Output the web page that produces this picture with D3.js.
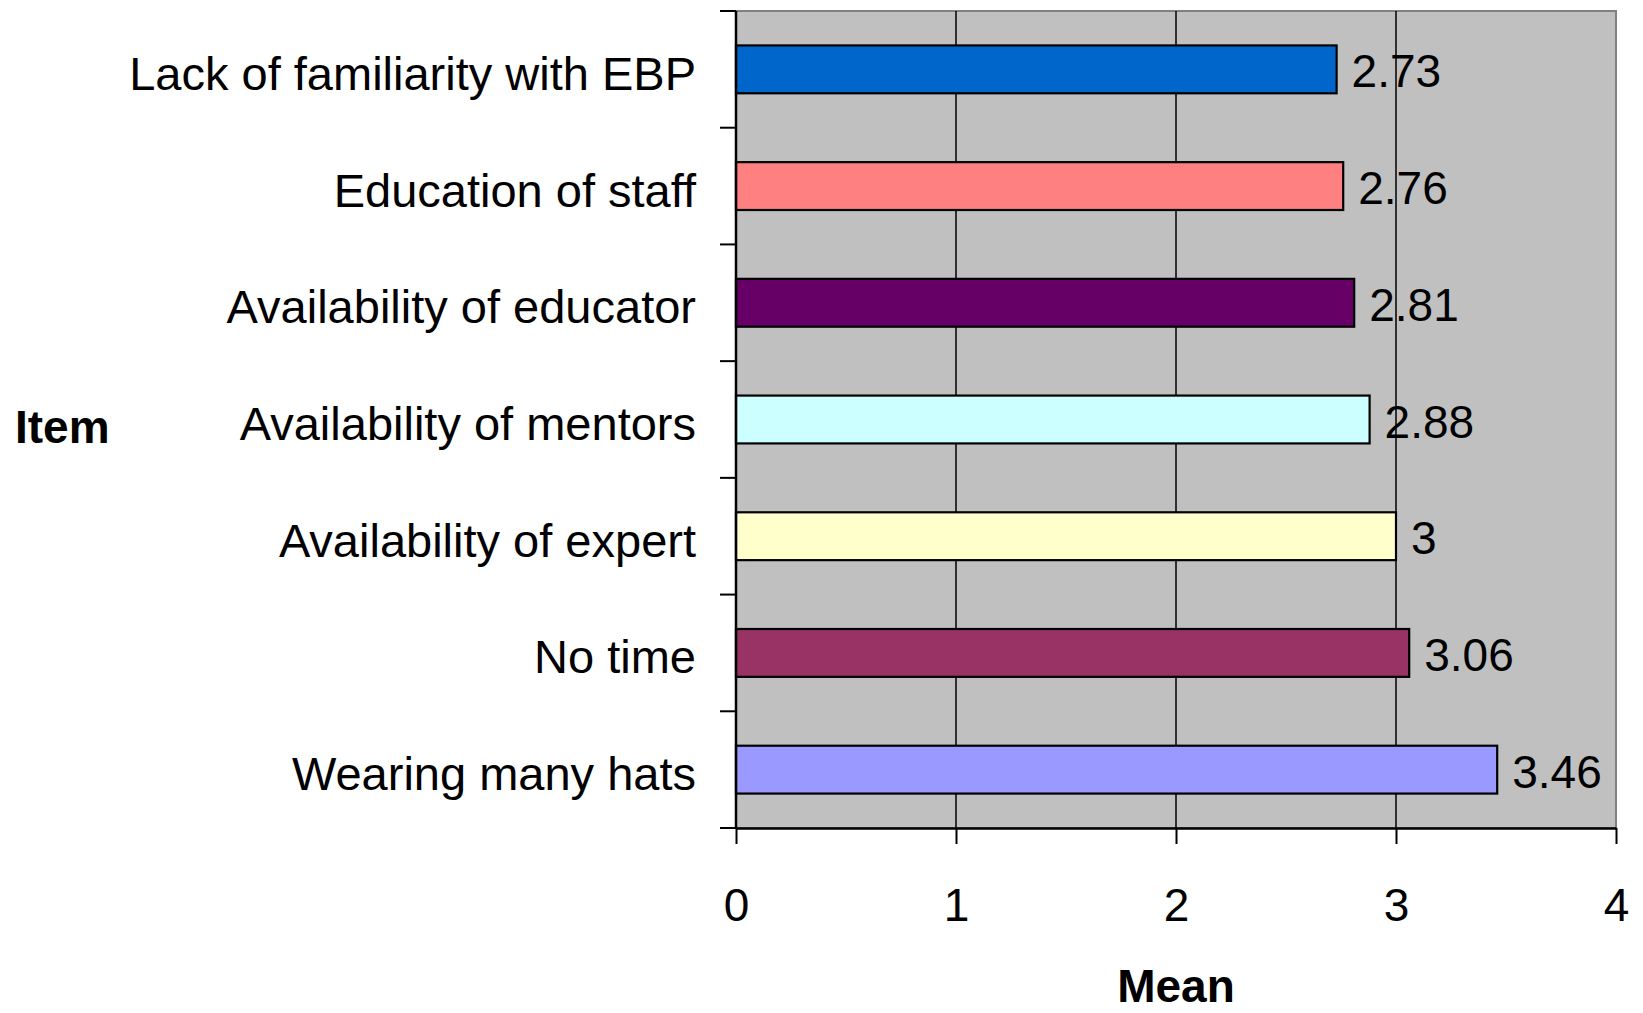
<!DOCTYPE html>
<html>
<head>
<meta charset="utf-8">
<script src="https://cdn.jsdelivr.net/npm/d3@7"></script>
<style>
  html, body { margin: 0; padding: 0; background: #ffffff; }
  svg { display: block; }
  text { font-family: "Liberation Sans", Arial, sans-serif; fill: #000; }
</style>
</head>
<body>
<svg id="chart" width="1643" height="1013"></svg>
<script>
// Barrier items, top to bottom
const items = [
  "Lack of familiarity with EBP",
  "Education of staff",
  "Availability of educator",
  "Availability of mentors",
  "Availability of expert",
  "No time",
  "Wearing many hats"
];
// Mean score per item
const means = [2.73, 2.76, 2.81, 2.88, 3, 3.06, 3.46];
// Fill for each bar
const barColors = ["#0066CC", "#FF8080", "#660066", "#CCFFFF", "#FFFFCC", "#993366", "#9999FF"];
// Value-axis ticks
const xTicks = [0, 1, 2, 3, 4];

const svg = d3.select("#chart");
const plot = { left: 736, right: 1616, top: 11, bottom: 828 };

const x = d3.scaleLinear().domain([0, 4]).range([plot.left, plot.right]);
const y = d3.scaleBand().domain(items).range([plot.top, plot.bottom]).paddingInner(0.59).paddingOuter(0.295);

// Plot area background
svg.append("rect")
  .attr("x", plot.left).attr("y", plot.top)
  .attr("width", plot.right - plot.left).attr("height", plot.bottom - plot.top)
  .attr("fill", "#C0C0C0").attr("stroke", "#808080").attr("stroke-width", 2);

// Vertical gridlines
svg.append("g").selectAll("line")
  .data(xTicks.filter(t => t > 0 && t < 4))
  .join("line")
  .attr("x1", d => x(d)).attr("x2", d => x(d))
  .attr("y1", plot.top).attr("y2", plot.bottom)
  .attr("stroke", "#000").attr("stroke-width", 1.5);

// Bars
svg.append("g").selectAll("rect")
  .data(items)
  .join("rect")
  .attr("x", x(0))
  .attr("y", d => y(d))
  .attr("width", (d, i) => x(means[i]) - x(0))
  .attr("height", y.bandwidth())
  .attr("fill", (d, i) => barColors[i])
  .attr("stroke", "#000").attr("stroke-width", 2.2);

// Value labels
svg.append("g").selectAll("text")
  .data(items)
  .join("text")
  .attr("x", (d, i) => x(means[i]) + 15)
  .attr("y", d => y(d) + y.bandwidth() / 2 + 2)
  .attr("dy", "0.35em")
  .attr("font-size", 46)
  .text((d, i) => String(means[i]));

// Category axis
const yAxis = d3.axisLeft(y).tickSize(0).tickPadding(40);
const gy = svg.append("g").attr("transform", `translate(${plot.left},0)`).call(yAxis);
gy.select(".domain").remove();
gy.selectAll("text")
  .attr("font-size", 47)
  .attr("font-family", "\"Liberation Sans\", Arial, sans-serif")
  .attr("y", 4)
  .attr("dy", "0.35em");

// Category tick marks at band boundaries
const bounds = items.map(d => y(d) - y.step() * y.paddingInner() / 2);
bounds.push(plot.bottom);
svg.append("g").selectAll("line")
  .data(bounds)
  .join("line")
  .attr("x1", plot.left - 16).attr("x2", plot.left)
  .attr("y1", d => d).attr("y2", d => d)
  .attr("stroke", "#000").attr("stroke-width", 2);

svg.append("line")
  .attr("x1", plot.left).attr("x2", plot.left)
  .attr("y1", plot.top).attr("y2", plot.bottom)
  .attr("stroke", "#000").attr("stroke-width", 2.5);

// Value axis
const xAxis = d3.axisBottom(x).tickValues(xTicks).tickFormat(d3.format("d"))
  .tickSize(16).tickPadding(44).tickSizeOuter(0);
const gx = svg.append("g").attr("transform", `translate(0,${plot.bottom})`).call(xAxis);
gx.select(".domain").attr("stroke", "#000").attr("stroke-width", 2.5);
gx.selectAll(".tick line").attr("stroke", "#000").attr("stroke-width", 2);
gx.selectAll("text").attr("font-size", 46).attr("font-family", "\"Liberation Sans\", Arial, sans-serif");

// Axis titles
svg.append("text")
  .attr("x", 15).attr("y", 427).attr("dy", "0.35em")
  .attr("font-size", 46).attr("font-weight", "bold")
  .text("Item");

svg.append("text")
  .attr("x", (plot.left + plot.right) / 2).attr("y", 1002)
  .attr("text-anchor", "middle")
  .attr("font-size", 46).attr("font-weight", "bold")
  .text("Mean");
</script>
</body>
</html>
